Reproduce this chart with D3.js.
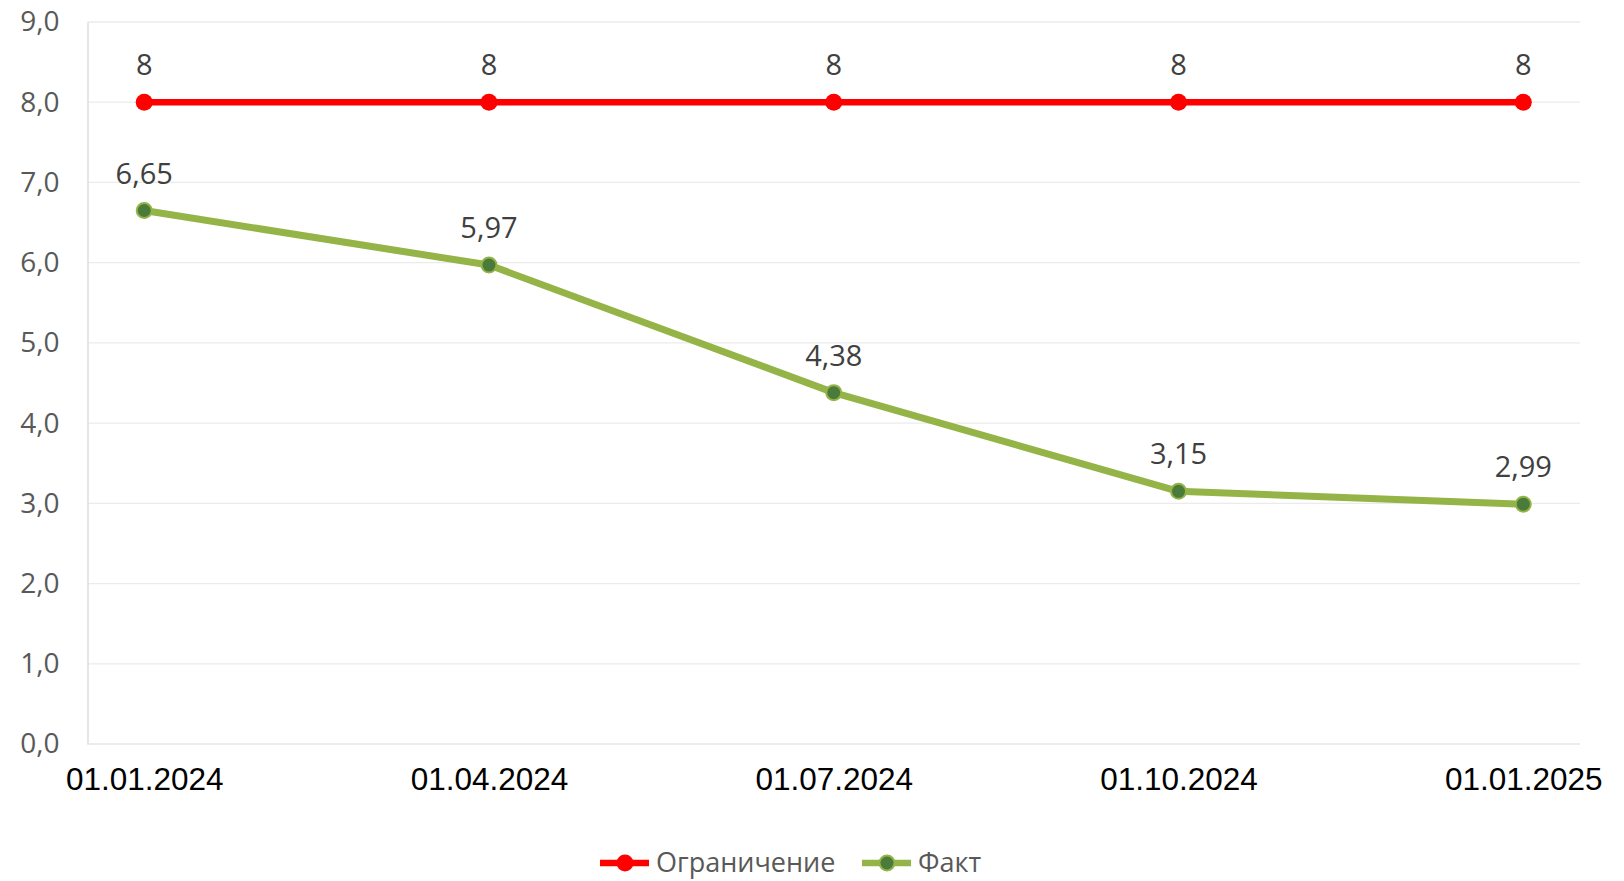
<!DOCTYPE html>
<html><head><meta charset="utf-8">
<script src="https://cdn.jsdelivr.net/npm/d3@7"></script>
<style>html,body{margin:0;padding:0;background:#fff;}svg{display:block;}</style>
</head><body>
<svg id="chart" width="1624" height="881"></svg>
<script>
const categories = ["01.01.2024","01.04.2024","01.07.2024","01.10.2024","01.01.2025"];
const limitValues = [8, 8, 8, 8, 8];
const factValues = [6.65, 5.97, 4.38, 3.15, 2.99];
const yTicks = [0,1,2,3,4,5,6,7,8,9];
const seriesNames = ["Ограничение", "Факт"];

(function () {
const svg = d3.select("#chart");
const pLeft = 87.5, pRight = 1580, pTop = 22, pBottom = 744;

const x = d3.scalePoint().domain(categories).range([pLeft, pRight]).padding(0.1645);
const y = d3.scaleLinear().domain([0, 9]).range([pBottom, pTop]);
const fmt = v => d3.format(".1f")(v).replace(".", ",");
const fmtLbl = v => String(v).replace(".", ",");

// gridlines
svg.append("g").selectAll("line").data(yTicks.filter(d => d > 0)).join("line")
  .attr("x1", pLeft).attr("x2", pRight).attr("y1", d => y(d)).attr("y2", d => y(d))
  .attr("stroke", "#ebebeb").attr("stroke-width", 1.3);

// y axis
const yAxis = svg.append("g").attr("transform", `translate(${pLeft},0)`)
  .call(d3.axisLeft(y).tickValues(yTicks).tickFormat(fmt).tickSize(0).tickPadding(28));
yAxis.select(".domain").attr("stroke", "#d9d9d9").attr("stroke-width", 1.3);
yAxis.selectAll("text").attr("font-family", "'Open Sans', sans-serif").attr("font-size", 28)
  .attr("fill", "#595959");

// x axis
const xAxis = svg.append("g").attr("transform", `translate(0,${pBottom})`)
  .call(d3.axisBottom(x).tickSize(0).tickPadding(24));
xAxis.select(".domain").attr("stroke", "#e6e6e6").attr("stroke-width", 1.3)
  .attr("d", `M${pLeft},0H${pRight}`);
xAxis.selectAll("text").attr("font-family", "'Liberation Sans', Arial, sans-serif")
  .attr("font-size", 31.5).attr("fill", "#000");

const line = d3.line().x((d, i) => x(categories[i])).y(d => y(d));

// fact series
svg.append("path").datum(factValues).attr("d", line).attr("fill", "none")
  .attr("stroke", "#94b447").attr("stroke-width", 7).attr("stroke-linejoin", "round");
svg.append("g").selectAll("circle").data(factValues).join("circle")
  .attr("cx", (d, i) => x(categories[i])).attr("cy", d => y(d)).attr("r", 7.5)
  .attr("fill", "#4b7b3a").attr("stroke", "#94b447").attr("stroke-width", 2);

// limit series
svg.append("path").datum(limitValues).attr("d", line).attr("fill", "none")
  .attr("stroke", "#ff0000").attr("stroke-width", 6.5);
svg.append("g").selectAll("circle").data(limitValues).join("circle")
  .attr("cx", (d, i) => x(categories[i])).attr("cy", d => y(d)).attr("r", 8.5)
  .attr("fill", "#ff0000");

// data labels
const lbl = (vals) => svg.append("g").selectAll("text").data(vals).join("text")
  .attr("x", (d, i) => x(categories[i])).attr("y", d => y(d) - 27)
  .attr("text-anchor", "middle").attr("font-family", "'Open Sans', sans-serif")
  .attr("font-size", 29).attr("fill", "#404040").text(d => fmtLbl(d));
lbl(limitValues);
lbl(factValues);

// legend
const legend = svg.append("g");
const items = [
  {name: seriesNames[0], x0: 600, color: "#ff0000", fill: "#ff0000", r: 8.5, stroke: null},
  {name: seriesNames[1], x0: 862, color: "#94b447", fill: "#4b7b3a", r: 7.5, stroke: "#94b447"}
];
const ly = 863;
items.forEach(it => {
  legend.append("line").attr("x1", it.x0).attr("x2", it.x0 + 49).attr("y1", ly).attr("y2", ly)
    .attr("stroke", it.color).attr("stroke-width", 6.5);
  const c = legend.append("circle").attr("cx", it.x0 + 25).attr("cy", ly).attr("r", it.r).attr("fill", it.fill);
  if (it.stroke) c.attr("stroke", it.stroke).attr("stroke-width", 2);
  legend.append("text").attr("x", it.x0 + 56).attr("y", ly).attr("dy", "0.35em")
    .attr("font-family", "'Open Sans', sans-serif").attr("font-size", 27).attr("fill", "#595959")
    .text(it.name);
});
})();
</script>
</body></html>
